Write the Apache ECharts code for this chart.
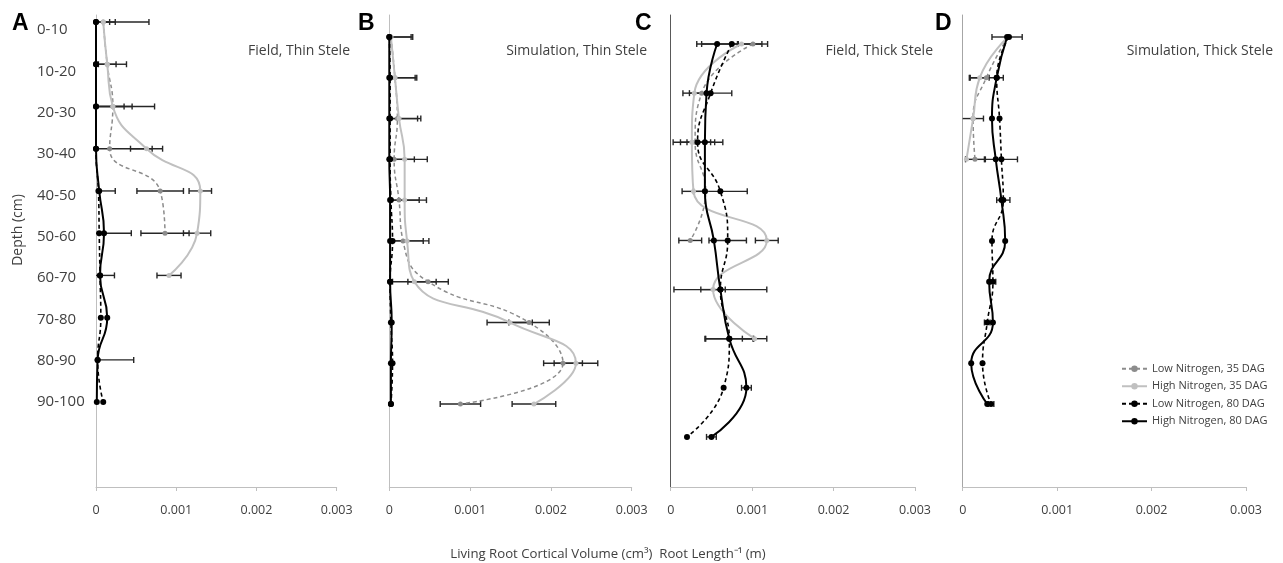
<!DOCTYPE html>
<html><head><meta charset="utf-8">
<script src="https://cdn.jsdelivr.net/npm/echarts@6/dist/echarts.min.js"></script>
<style>html,body{margin:0;padding:0;background:#fff}#c{width:1283px;height:563px}</style>
</head><body><div id="c"></div>
<script>
// ---------- DATA ----------
const depthLabels = ['0-10','10-20','20-30','30-40','40-50','50-60','60-70','70-80','80-90','90-100'];
const seriesNames = ['Low Nitrogen, 35 DAG','High Nitrogen, 35 DAG','Low Nitrogen, 80 DAG','High Nitrogen, 80 DAG'];
const xTickValues = [0, 0.001, 0.002, 0.003];
const panelLetters = ['A','B','C','D'];
const panelTitles = ['Field, Thin Stele','Simulation, Thin Stele','Field, Thick Stele','Simulation, Thick Stele'];
const xAxisTitle = 'Living Root Cortical Volume (cm³)  Root Length⁻¹ (m)';
const yAxisTitle = 'Depth (cm)';

// Panel A: Field, Thin Stele (rows 0-10 ... 90-100)
const aLowN35     = [0.00009, 0.00014, 0.00021, 0.00017, 0.00080, 0.00086, null, null, null, null];
const aLowN35Err  = [0.00057, 0.00024, 0.00052, 0.00053, 0.00029, 0.00030, null, null, null, null];
const aHighN35    = [0.00009, 0.00014, 0.00021, 0.00063, 0.00130, 0.00126, 0.00091, null, null, null];
const aHighN35Err = [0.00015, 0.00011, 0.00024, 0.00020, 0.00014, 0.00017, 0.00015, null, null, null];
const aLowN80     = [0, 0, 0, 0, 0.00003, 0.00004, 0.00005, 0.00006, 0.00002, 0.00009];
const aLowN80Err  = [0.00017, 0, 0.00035, 0, 0.00021, 0, 0.00018, 0, 0.00045, 0];
const aHighN80    = [0, 0, 0, 0, 0.00004, 0.00010, 0.00005, 0.00014, 0.00002, 0.00001];
const aHighN80Err = [0, 0, 0, 0, 0, 0.00034, 0, 0, 0, 0];

// Panel B: Simulation, Thin Stele
const bLowN35     = [0.00002, 0.00007, 0.00010, 0.00006, 0.00012, 0.00017, 0.00048, 0.00173, 0.00215, 0.00088];
const bLowN35Err  = [0.00025, 0.00025, 0.00025, 0.00025, 0.00025, 0.00025, 0.00025, 0.00025, 0.00024, 0.00025];
const bHighN35    = [0.00002, 0.00007, 0.00012, 0.00019, 0.00019, 0.00022, 0.00031, 0.00149, 0.00231, 0.00179];
const bHighN35Err = [0.00027, 0.00027, 0.00027, 0.00028, 0.00027, 0.00027, 0.00027, 0.00028, 0.00027, 0.00027];
const bLowN80     = [0, 0.00001, 0.00001, 0.00001, 0.00002, 0.00004, 0.00001, 0.00002, 0.00004, 0.00002];
const bLowN80Err  = [0, 0, 0, 0, 0, 0, 0, 0, 0, 0];
const bHighN80    = [0, 0, 0, 0, 0.00001, 0.00001, 0.00001, 0.00003, 0.00002, 0.00002];
const bHighN80Err = [0, 0, 0, 0, 0, 0, 0, 0, 0, 0];

// Panel C: Field, Thick Stele (9 rows)
const cLowN35     = [0.00101, 0.00038, 0.00030, 0.00043, 0.00024, null, null, null, null];
const cLowN35Err  = [0.00018, 0, 0, 0, 0.00014, null, null, null, null];
const cHighN35    = [0.00087, 0.00029, 0.00026, 0.00028, 0.00118, 0.00052, 0.00103, null, null];
const cHighN35Err = [0, 0.00014, 0.00023, 0.00014, 0.00014, 0.00015, 0.00015, null, null];
const cLowN80     = [0.00075, 0.00049, 0.00033, 0.00061, 0.00070, 0.00061, 0.00072, 0.00065, 0.00020];
const cLowN80Err  = [0.00037, 0.00026, 0.00021, 0.00033, 0.00023, 0.00057, 0.00029, 0, 0];
const cHighN80    = [0.00057, 0.00044, 0.00042, 0.00042, 0.00053, 0.00061, 0.00072, 0.00093, 0.00050];
const cHighN80Err = [0.00025, 0, 0.00022, 0, 0, 0, 0.00030, 0.00006, 0.00006];

// Panel D: Simulation, Thick Stele
const dLowN35     = [0.00048, 0.00025, 0.00011, 0.00013, null, null, null, null, null, null];
const dLowN35Err  = [0, 0.00018, 0, 0.00010, null, null, null, null, null, null];
const dHighN35    = [0.00048, 0.00018, 0.00011, 0.00004, null, null, null, null, null, null];
const dHighN35Err = [0, 0.00010, 0.00011, 0, null, null, null, null, null, null];
const dLowN80     = [0.00049, 0.00036, 0.00039, 0.00041, 0.00043, 0.00031, 0.00032, 0.00026, 0.00021, 0.00030];
const dLowN80Err  = [0, 0, 0, 0.00017, 0.00007, 0, 0.00003, 0.00003, 0, 0.00003];
const dHighN80    = [0.00047, 0.00036, 0.00031, 0.00035, 0.00041, 0.00045, 0.00028, 0.00032, 0.00009, 0.00026];
const dHighN80Err = [0.00016, 0, 0, 0, 0, 0, 0, 0, 0, 0];

const panels = [
  [[aLowN35,aLowN35Err],[aHighN35,aHighN35Err],[aLowN80,aLowN80Err],[aHighN80,aHighN80Err]],
  [[bLowN35,bLowN35Err],[bHighN35,bHighN35Err],[bLowN80,bLowN80Err],[bHighN80,bHighN80Err]],
  [[cLowN35,cLowN35Err],[cHighN35,cHighN35Err],[cLowN80,cLowN80Err],[cHighN80,cHighN80Err]],
  [[dLowN35,dLowN35Err],[dHighN35,dHighN35Err],[dLowN80,dLowN80Err],[dHighN80,dHighN80Err]]
];

// ---------- LAYOUT / STYLE ----------
const FONT = "'Open Sans', 'Liberation Sans', sans-serif";
const TXT = '#404040';
const grids = [
  {left: 96,    width: 240.7},
  {left: 389.3, width: 242.4},
  {left: 670.7, width: 244.3},
  {left: 962.7, width: 283.3}
];
const gridTop = 15, gridHeight = 472;
// y extents (inverse) per panel so depth rows land where the reference puts them
const yExtents = [[0.834, 12.01],[0.4605, 12.035],[0.409, 10.02],[0.4605, 12.035]];
const yLineColors = ['#bfbfbf','#bfbfbf','#595959','#a6a6a6'];
const sty = [
  {color:'#8c8c8c', type:[4,3], width:1.5, size:5},
  {color:'#c0c0c0', type:'solid', width:2, size:5},
  {color:'#000000', type:[4,3], width:1.6, size:6},
  {color:'#000000', type:'solid', width:2, size:6}
];

const grid = grids.map(g => ({left:g.left, width:g.width, top:gridTop, height:gridHeight}));
const xAxis = grids.map((g,i) => ({
  gridIndex:i, type:'value', min:0, max:0.003, interval:0.001, position:'bottom',
  axisLine:{show:true, onZero:false, lineStyle:{color:'#bfbfbf', width:1}},
  axisTick:{show:true, length:4, lineStyle:{color:'#bfbfbf'}},
  splitLine:{show:false},
  axisLabel:{color:TXT, fontFamily:FONT, fontSize:12.5, margin:17,
    formatter: v => v === 0 ? '0' : String(+v.toFixed(3))}
}));
const dataYAxisIdx = [0, 2, 3, 4];
const yAxis = [];
grids.forEach((g,i) => {
  yAxis.push({
    gridIndex:i, type:'value', inverse:true, position:'left', offset:0,
    min:yExtents[i][0], max:yExtents[i][1],
    axisLine:{show:true, onZero:false, lineStyle:{color:yLineColors[i], width:1}},
    axisTick:{show:false}, axisLabel:{show:false}, splitLine:{show:false}
  });
  if (i === 0) {
    yAxis.push({
      gridIndex:0, type:'value', inverse:true, position:'left', offset:0, min:0.637, max:12.06,
      axisLine:{show:false, onZero:false}, axisTick:{show:false}, splitLine:{show:false},
      axisLabel:{show:true, customValues: depthLabels.map((_,k)=>k+1),
        formatter: v => depthLabels[Math.round(v)-1] || '',
        align:'left', margin:59, fontSize:15, color:TXT, fontFamily:FONT}
    });
  }
});

function renderErr(params, api) {
  const v = api.value(0), d = api.value(1), e = api.value(2);
  const lo = Math.max(0, v - e), hi = v + e;
  const pL = api.coord([lo, d]), pR = api.coord([hi, d]);
  const cap = 3;
  const st = {stroke:'#262626', lineWidth:1.4};
  const ch = [
    {type:'line', shape:{x1:pL[0], y1:pL[1], x2:pR[0], y2:pR[1]}, style:st},
    {type:'line', shape:{x1:pR[0], y1:pR[1]-cap, x2:pR[0], y2:pR[1]+cap}, style:st}
  ];
  if (v - e > 0) ch.push({type:'line', shape:{x1:pL[0], y1:pL[1]-cap, x2:pL[0], y2:pL[1]+cap}, style:st});
  return {type:'group', children:ch};
}

const series = [];
panels.forEach((pan, p) => {
  pan.forEach(([vals, errs], s) => {
    const errData = [];
    vals.forEach((v,k) => { if (v != null && errs[k]) errData.push([v, k+1, errs[k]]); });
    series.push({
      type:'custom', name:seriesNames[s]+' err', xAxisIndex:p, yAxisIndex:dataYAxisIdx[p],
      renderItem:renderErr, data:errData, encode:{x:0, y:1}, z:1, silent:true
    });
  });
  pan.forEach(([vals], s) => {
    const data = [];
    vals.forEach((v,k) => { if (v != null) data.push([v, k+1]); });
    series.push({
      type:'line', name:seriesNames[s], xAxisIndex:p, yAxisIndex:dataYAxisIdx[p],
      data, smooth:true, symbol:'circle', symbolSize:sty[s].size, showSymbol:true,
      lineStyle:{color:sty[s].color, width:sty[s].width, type:sty[s].type},
      itemStyle:{color:sty[s].color}, z:2+s, animation:false
    });
  });
});

const graphic = [];
const letterX = [12, 358, 635, 935];
panelLetters.forEach((L,i) => graphic.push({type:'text', left:letterX[i], top:12,
  style:{text:L, font:"bold 23px 'Liberation Sans', Arial, sans-serif", fill:'#000'}}));
const titleRight = [350, 647, 933, 1273];
panelTitles.forEach((t,i) => graphic.push({type:'text', x:titleRight[i], y:51,
  style:{text:t, font:"14px " + FONT, fill:TXT, textAlign:'right', textVerticalAlign:'middle'}}));
graphic.push({type:'text', x:18, y:230, rotation:Math.PI/2,
  style:{text:yAxisTitle, font:"14px " + FONT, fill:TXT, textAlign:'center', textVerticalAlign:'middle'}});
graphic.push({type:'text', x:608, y:554,
  style:{text:xAxisTitle, font:"13.2px " + FONT, fill:TXT, textAlign:'center', textVerticalAlign:'middle'}});

const chart = echarts.init(document.getElementById('c'), null, {renderer:'canvas'});
chart.setOption({
  animation:false,
  backgroundColor:'#ffffff',
  grid, xAxis, yAxis, series, graphic,
  legend:{data:seriesNames, orient:'vertical', left:1116, top:357, itemWidth:25, itemHeight:8,
    itemGap:4, textStyle:{fontFamily:FONT, fontSize:11, color:TXT, lineHeight:13.5}}
});
</script></body></html>
